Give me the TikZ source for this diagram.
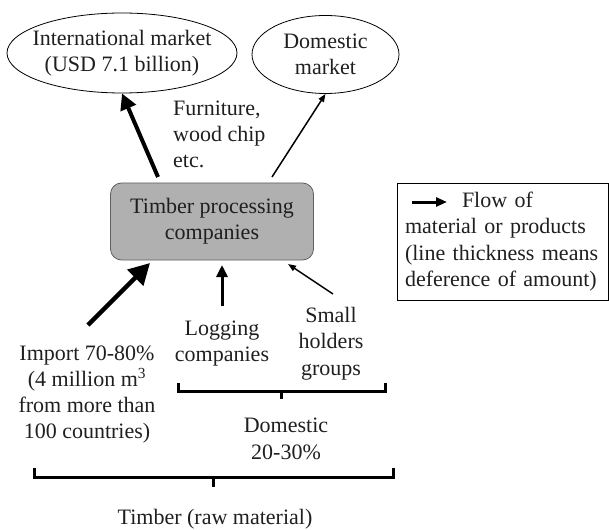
\documentclass[tikz,border=0pt]{standalone}
\usepackage{fontspec}
\setmainfont{Liberation Serif}
\usetikzlibrary{arrows.meta,shapes.geometric}
\begin{document}
\begin{tikzpicture}[x=1pt,y=-1pt,
  every node/.style={font=\fontsize{22}{26.3}\selectfont, inner sep=0pt, text=black!88},
  market/.style={draw, ellipse, line width=0.8pt, align=center, inner xsep=-20pt, inner ysep=0pt},
  proc/.style={draw=gray!75!black, fill=gray!62, rounded corners=11pt, line width=0.8pt, align=center},
  lbl/.style={align=center},
  legendbox/.style={draw, line width=0.8pt, align=left, inner xsep=8pt, text width=195pt, minimum height=117pt},
  flow/.style args={#1/#2/#3}{line width=#1, -{Triangle[length=#2, width=#3]}},
  brace/.style={line width=3pt, line join=miter}
]
\useasboundingbox (0,0) rectangle (609,529);

% nodes
\node[market, minimum width=230pt, minimum height=80pt] (intl) at (122,53) {International market\\(USD 7.1 billion)};
\node[market, minimum width=147pt, minimum height=78pt] (dom) at (325.5,54.5) {Domestic\\market};
\node[proc, minimum width=203pt, minimum height=77pt] (box) at (212,221.5) {Timber processing\\companies};
\node[anchor=west, align=left] (furn) at (173,134.5) {Furniture,\\wood chip\\etc.};
\node[lbl] (import) at (87,394.5) {Import 70-80\%\\(4 million m\textsuperscript{3}\\from more than\\100 countries)};
\node[lbl] (logging) at (222,343.5) {Logging\\companies};
\node[lbl] (small) at (331,343.5) {Small\\holders\\groups};
\node[lbl] (domlbl) at (286,439) {Domestic\\20-30\%};
\node[lbl] (timber) at (215,519) {Timber (raw material)};
\node[legendbox] (legend) at (502.5,241.5) {\hspace*{57pt}Flow of\\material or products\\(line thickness means\\deference of amount)};

% connector end points
\coordinate (outIntl) at (158,177);
\coordinate (outDom) at (272,177);
\coordinate (impS) at (88,325);
\coordinate (impT) at (150,263);
\coordinate (logS) at (222,306);
\coordinate (logT) at (222,265);
\coordinate (smS) at (333,294);
\coordinate (smT) at (288,264);
\coordinate (legS) at (412,202);
\coordinate (legT) at (447,202);

% connectors
\draw[flow=4pt/16pt/16pt] (outIntl) -- (intl.south);
\draw[flow=1.5pt/8pt/6pt] (outDom) -- (dom.south);
\draw[flow=4.5pt/21pt/22pt] (impS) -- (impT);
\draw[flow=3pt/12pt/11pt] (logS) -- (logT);
\draw[flow=1.5pt/8pt/6pt] (smS) -- (smT);
\draw[flow=3pt/11pt/9pt] (legS) -- (legT);

% braces
\coordinate (dbL) at (178,383);
\coordinate (dbR) at (385,383);
\coordinate (dbM) at (281,391);
\draw[brace] (dbL) -- (178,391) -- (385,391) -- (dbR);
\draw[brace] (dbM) -- (281,399);
\coordinate (tbL) at (34,468);
\coordinate (tbR) at (393,468);
\coordinate (tbM) at (213,477);
\draw[brace] (tbL) -- (34,477) -- (393,477) -- (tbR);
\draw[brace] (tbM) -- (213,487);
\end{tikzpicture}
\end{document}
